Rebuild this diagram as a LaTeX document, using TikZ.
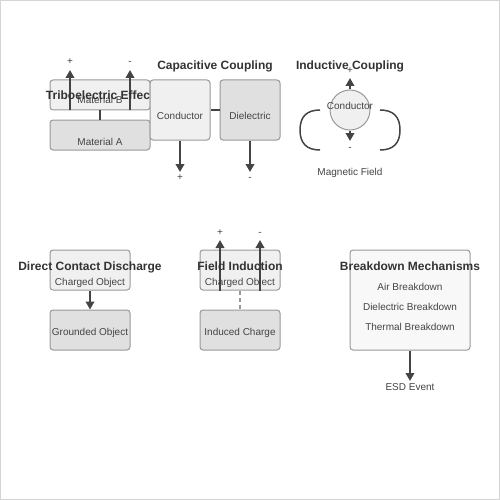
\documentclass[tikz,border=0pt]{standalone}
\usepackage{fontspec}
\setmainfont{Liberation Sans}
\usetikzlibrary{arrows.meta}

\definecolor{lightbox}{HTML}{F0F0F0}
\definecolor{darkbox}{HTML}{E0E0E0}
\definecolor{panel}{HTML}{F8F8F8}
\definecolor{edge}{HTML}{999999}
\definecolor{frame}{HTML}{D4D4D4}
\definecolor{ink}{HTML}{444444}
\definecolor{titleink}{HTML}{333333}

\tikzset{
  box/.style={draw=edge, line width=1pt, rounded corners=3pt, inner sep=0pt},
  txt/.style={font=\fontsize{10}{12}\selectfont, text=ink, anchor=base, inner sep=0pt},
  ttl/.style={font=\bfseries\fontsize{12}{14}\selectfont, text=titleink, anchor=base, inner sep=0pt},
  sgn/.style={font=\fontsize{10}{11}\selectfont, text=ink, anchor=base, inner sep=0pt},
  flow/.style={draw=ink, line width=2pt, -{Triangle[length=8pt,width=8.5pt]}},
  link/.style={draw=ink, line width=2pt},
}

\begin{document}
\begin{tikzpicture}[x=1pt, y=-1pt]
  \useasboundingbox (0,0) rectangle (500,500);
  \draw[frame, line width=1pt] (0.5,0.5) rectangle (499.5,499.5);

  \node[box, fill=lightbox, minimum width=100pt, minimum height=30pt] (matB) at (100,95) {};
  \node[box, fill=darkbox, minimum width=100pt, minimum height=30pt] (matA) at (100,135) {};
  \draw[link] (matB.south) -- (matA.north);
  \node[txt] (matBtxt) at (100,103) {Material B};
  \node[txt] (matAtxt) at (100,145) {Material A};
  \coordinate (triboP) at (70,70);
  \coordinate (triboM) at (130,70);
  \draw[flow] (matB.south -| triboP) -- (triboP);
  \draw[flow] (matB.south -| triboM) -- (triboM);
  \node[sgn] (triboPlus) at (70,65) {+};
  \node[sgn] (triboMinus) at (130,65) {-};
  \node[ttl] (triboTitle) at (100,100) {Triboelectric Effect};

  \node[ttl] (capTitle) at (215,70) {Capacitive Coupling};
  \node[box, fill=lightbox, minimum width=60pt, minimum height=60pt] (cond) at (180,110) {};
  \node[box, fill=darkbox, minimum width=60pt, minimum height=60pt] (diel) at (250,110) {};
  \draw[link] (cond.east) -- (diel.west);
  \node[txt] (condtxt) at (180,120) {Conductor};
  \node[txt] (dieltxt) at (250,120) {Dielectric};
  \coordinate (capP) at (180,172);
  \coordinate (capM) at (250,172);
  \draw[flow] (cond.south) -- (capP);
  \draw[flow] (diel.south) -- (capM);
  \node[sgn] (capPlus) at (180,180) {+};
  \node[sgn] (capMinus) at (250,180) {-};

  \node[ttl] (indTitle) at (350,70) {Inductive Coupling};
  \node[circle, draw=edge, line width=1pt, fill=lightbox, minimum size=40pt, inner sep=0pt] (coil) at (350,110) {};
  \node[txt] (coiltxt) at (350,110) {Conductor};
  \coordinate (indP) at (350,78);
  \coordinate (indM) at (350,141);
  \draw[flow] (coil.north) -- (indP);
  \draw[flow] (coil.south) -- (indM);
  \node[sgn] (indPlus) at (350,74) {+};
  \node[sgn] (indMinus) at (350,150) {-};
  \draw[link, line width=1.5pt] (320,110) .. controls (306.7,110) and (300,116.7) .. (300,130) .. controls (300,143.3) and (306.7,150) .. (320,150);
  \draw[link, line width=1.5pt] (380,110) .. controls (393.3,110) and (400,116.7) .. (400,130) .. controls (400,143.3) and (393.3,150) .. (380,150);
  \node[txt] (fieldtxt) at (350,175) {Magnetic Field};

  \node[box, fill=lightbox, minimum width=80pt, minimum height=40pt] (chgA) at (90,270) {};
  \node[box, fill=darkbox, minimum width=80pt, minimum height=40pt] (gnd) at (90,330) {};
  \draw[flow] (chgA.south) -- (gnd.north);
  \node[ttl] (dcTitle) at (90,270) {Direct Contact Discharge};
  \node[txt] (chgAtxt) at (90,285) {Charged Object};
  \node[txt] (gndtxt) at (90,335) {Grounded Object};

  \node[box, fill=lightbox, minimum width=80pt, minimum height=40pt] (chgB) at (240,270) {};
  \node[box, fill=darkbox, minimum width=80pt, minimum height=40pt] (ind) at (240,330) {};
  \draw[edge, line width=1.5pt, dash pattern=on 4pt off 3pt] (chgB.south) -- (ind.north);
  \coordinate (fiP) at (220,240);
  \coordinate (fiM) at (260,240);
  \draw[flow] (chgB.south -| fiP) -- (fiP);
  \draw[flow] (chgB.south -| fiM) -- (fiM);
  \node[sgn] (fiPlus) at (220,235) {+};
  \node[sgn] (fiMinus) at (260,235) {-};
  \node[ttl] (fiTitle) at (240,270) {Field Induction};
  \node[txt] (chgBtxt) at (240,285) {Charged Object};
  \node[txt] (indtxt) at (240,335) {Induced Charge};

  \node[box, fill=panel, minimum width=120pt, minimum height=100pt] (brk) at (410,300) {};
  \node[ttl] (brkTitle) at (410,270) {Breakdown Mechanisms};
  \node[txt] (airtxt) at (410,290) {Air Breakdown};
  \node[txt] (dietxt) at (410,310) {Dielectric Breakdown};
  \node[txt] (thermtxt) at (410,330) {Thermal Breakdown};
  \coordinate (esdEnd) at (410,381);
  \draw[flow] (brk.south) -- (esdEnd);
  \node[txt] (esdtxt) at (410,390) {ESD Event};
\end{tikzpicture}
\end{document}
